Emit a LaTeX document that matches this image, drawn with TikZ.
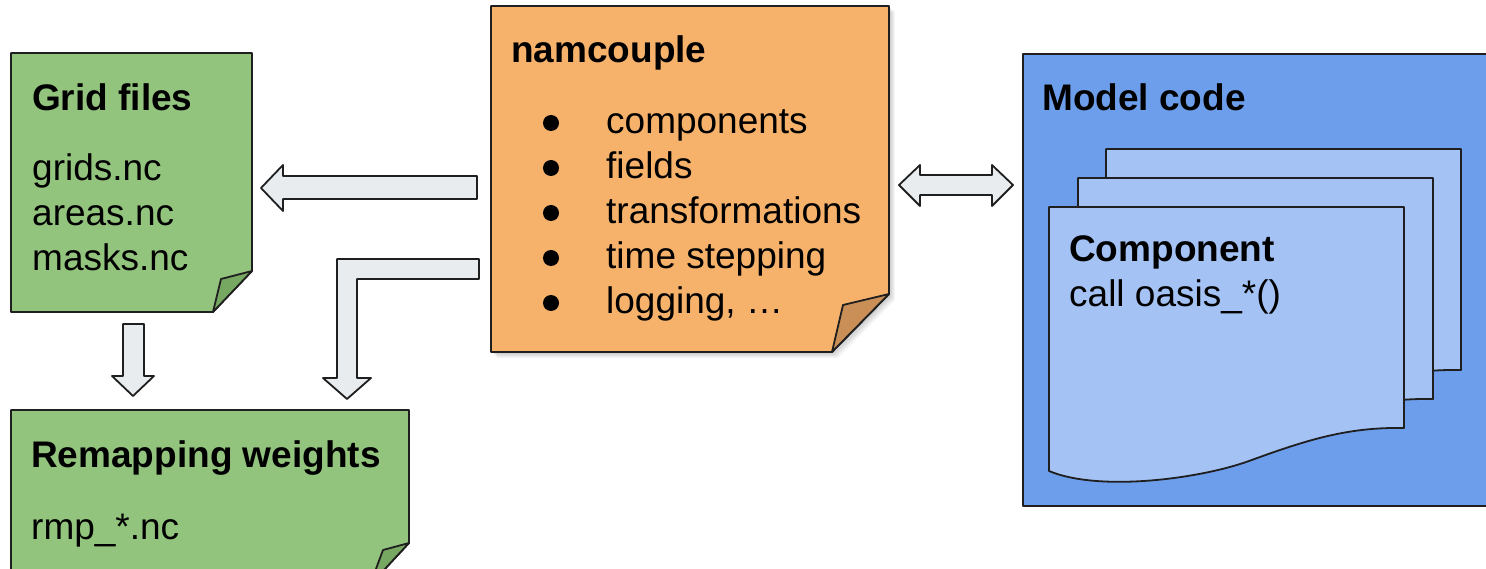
\documentclass[tikz,border=0pt]{standalone}
\usepackage{fontspec}
\setmainfont{Liberation Sans}
\begin{document}
\begin{tikzpicture}[x=1pt,y=-1pt,line join=round]
\definecolor{gfill}{HTML}{93C47D}
\definecolor{gfold}{HTML}{77A862}
\definecolor{ofill}{HTML}{F6B26B}
\definecolor{ofold}{HTML}{C98F57}
\definecolor{bfill}{HTML}{6D9EEB}
\definecolor{pfill}{HTML}{A4C2F4}
\definecolor{afill}{HTML}{E8ECEE}
\definecolor{edge}{HTML}{1F1F1F}
\tikzset{
  box/.style={draw=edge,line width=1.8pt},
  txt/.style={anchor=base west,inner sep=0pt,font=\fontsize{37}{45}\selectfont},
  ttl/.style={txt,font=\fontsize{37}{45}\selectfont\bfseries},
  arr/.style={draw=edge,fill=afill,line width=1.8pt},
  pagepic/.pic={\draw[box,fill=pfill] (0,0) -- (355,0) -- (355,221)
      .. controls (300,220) and (260,232) .. (200,254)
      .. controls (150,272) and (50,285) .. (0,264) -- cycle;}
}
\useasboundingbox (0,0) rectangle (1486,569);
\fill[white] (0,0) rectangle (1486,569);

% Grid files
\draw[box,fill=gfill] (11,53) -- (252,53) -- (252,271) -- (213,312) -- (11,312) -- cycle;
\draw[box,fill=gfold] (252,271) -- (221,279) -- (213,312) -- cycle;
\node[ttl] (gridt) at (32,111) {Grid files};
\node[txt] (grid1) at (32,181) {grids.nc};
\node[txt] (grid2) at (32,226) {areas.nc};
\node[txt] (grid3) at (32,271) {masks.nc};

% Remapping weights
\draw[box,fill=gfill] (11,410) -- (409,410) -- (409,543) -- (370,585) -- (11,585) -- cycle;
\draw[box,fill=gfold] (409,543) -- (383,550) -- (370,585) -- cycle;
\node[ttl] (remt) at (31,467) {Remapping weights};
\node[txt] (rem1) at (31,539) {rmp\_*.nc};

% namcouple shadow
\foreach \s in {1,...,6}
  \fill[black,opacity=0.035,shift={(\s,\s)}] (491,6) -- (889,6) -- (889,294) -- (832,352) -- (491,352) -- cycle;
% namcouple
\draw[box,fill=ofill] (491,6) -- (889,6) -- (889,294) -- (832,352) -- (491,352) -- cycle;
\draw[box,fill=ofold] (889,294) -- (843,305) -- (832,352) -- cycle;
\node[ttl] (namt) at (511,63) {namcouple};
\foreach \y in {123,168,213,258,303} \fill[black] (551,\y) circle (8);
\node[txt] (nam1) at (606,134) {components};
\node[txt] (nam2) at (606,179) {fields};
\node[txt] (nam3) at (606,224) {transformations};
\node[txt] (nam4) at (606,269) {time stepping};
\node[txt] (nam5) at (606,314) {logging, …};

% Model code
\draw[box,fill=bfill] (1023,54) rectangle (1495,506);
\node[ttl] (modt) at (1042,111) {Model code};
\pic at (1106,149) {pagepic};
\pic at (1078,178) {pagepic};
\pic at (1049,207) {pagepic};
\node[ttl] (compt) at (1069,262) {Component};
\node[txt] (comp1) at (1069,307) {call oasis\_*()};

% arrows
\draw[arr] (477,176) -- (283,176) -- (283,165) -- (261,188) -- (283,211) -- (283,199) -- (477,199) -- cycle;
\draw[arr] (479,259) -- (337,259) -- (337,378) -- (323,378) -- (347,399) -- (371,378) -- (357,378) -- (357,279) -- (479,279) -- cycle;
\draw[arr] (123,324) -- (144,324) -- (144,376) -- (154,376) -- (133,396) -- (112,376) -- (123,376) -- cycle;
\draw[arr] (899,185) -- (920,165) -- (920,175) -- (992,175) -- (992,165) -- (1013,185) -- (992,206) -- (992,195) -- (920,195) -- (920,206) -- cycle;
\end{tikzpicture}
\end{document}
